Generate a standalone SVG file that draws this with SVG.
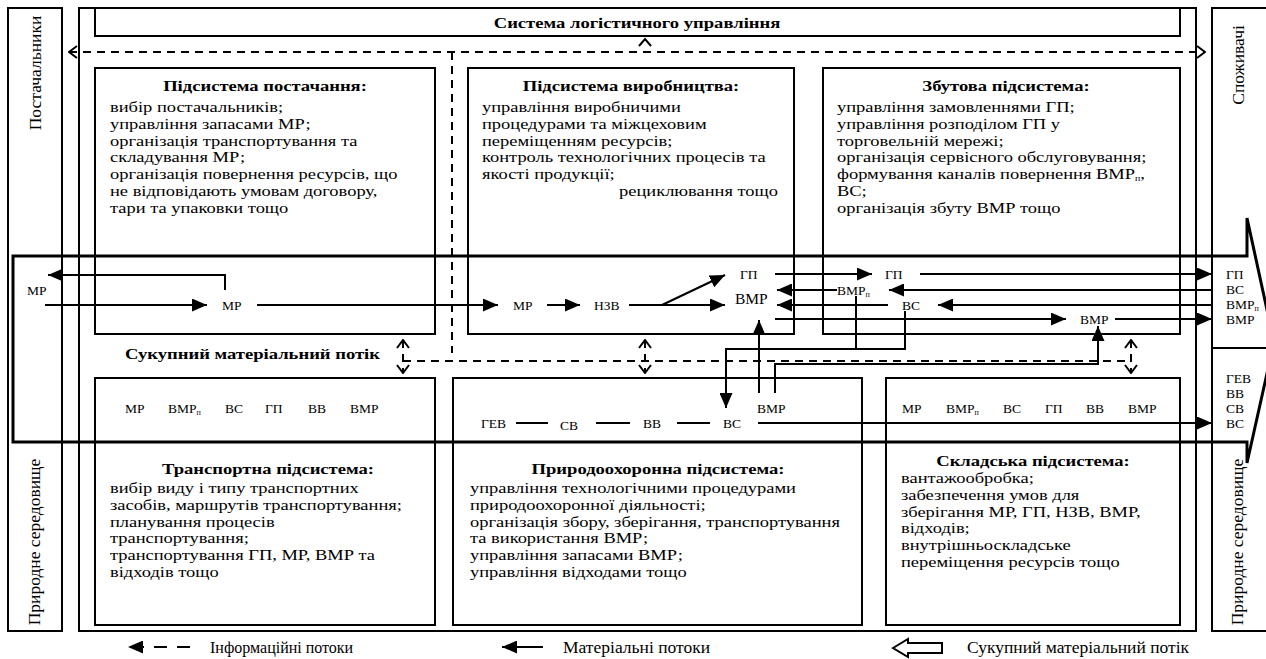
<svg xmlns="http://www.w3.org/2000/svg" width="1266" height="659" viewBox="0 0 1266 659">
<style>
text{font-family:"Liberation Serif","Times New Roman",serif;fill:#000}
.t{font-size:15px}
.b{font-size:15.5px;font-weight:bold}
.l{font-size:13.5px}
.v{font-size:17.5px}
.g{font-size:17.5px}
.box{fill:none;stroke:#000;stroke-width:2}
.ln{fill:none;stroke:#000;stroke-width:2}
.ds{fill:none;stroke:#000;stroke-width:2;stroke-dasharray:8 6}
.big{fill:none;stroke:#000;stroke-width:3}
.chev{fill:none;stroke:#000;stroke-width:2}
</style>
<defs>
<marker id="ah" viewBox="0 0 15 13" markerWidth="15" markerHeight="13" refX="15" refY="6.5" orient="auto" markerUnits="userSpaceOnUse"><path d="M0,0 L15,6.5 L0,13 Z" fill="#000"/></marker>
<marker id="oc" viewBox="0 0 10 14" markerWidth="10" markerHeight="14" refX="9" refY="7" orient="auto-start-reverse" markerUnits="userSpaceOnUse"><path d="M1,1 L9,7 L1,13" fill="none" stroke="#000" stroke-width="2"/></marker>
</defs>
<rect width="1266" height="659" fill="#fff"/>

<g id="outer"><rect class="box" x="79" y="8" width="1117" height="623"/></g>
<g id="left-env"><rect class="box" x="8" y="8" width="54" height="623"/>
<text class="v" transform="translate(41,73) rotate(-90)" text-anchor="middle">Постачальники</text>
<text class="v" transform="translate(40,542) rotate(-90)" text-anchor="middle">Природне середовище</text></g>
<g id="right-env"><path class="box" d="M1280 8 H1212 V631 H1280 M1212 348 H1280"/>
<text class="v" transform="translate(1244,65) rotate(-90)" text-anchor="middle">Споживачі</text>
<text class="v" transform="translate(1243,542) rotate(-90)" text-anchor="middle">Природне середовище</text></g>

<g id="control"><rect class="box" x="95" y="8" width="1085" height="28"/>
<text class="b" transform="translate(637,0) scale(1.2,1)" x="0" y="28" text-anchor="middle">Система логістичного управління</text></g>

<g id="supply"><rect class="box" x="95" y="68" width="340" height="266"/>
<text class="b" transform="translate(265,0) scale(1.2,1)" x="0" y="91" text-anchor="middle">Підсистема постачання:</text>
<g transform="translate(110,0) scale(1.23,1)">
<text class="t" x="0" y="112">вибір постачальників;</text>
<text class="t" x="0" y="129">управління запасами МР;</text>
<text class="t" x="0" y="146">організація транспортування та</text>
<text class="t" x="0" y="162">складування МР;</text>
<text class="t" x="0" y="179">організація повернення ресурсів, що</text>
<text class="t" x="0" y="196">не відповідають умовам договору,</text>
<text class="t" x="0" y="213">тари та упаковки тощо</text></g></g>

<g id="production"><rect class="box" x="468" y="68" width="326" height="266"/>
<text class="b" transform="translate(631,0) scale(1.2,1)" x="0" y="91" text-anchor="middle">Підсистема виробництва:</text>
<g transform="translate(482,0) scale(1.23,1)">
<text class="t" x="0" y="112">управління виробничими</text>
<text class="t" x="0" y="129">процедурами та міжцеховим</text>
<text class="t" x="0" y="146">переміщенням ресурсів;</text>
<text class="t" x="0" y="162">контроль технологічних процесів та</text>
<text class="t" x="0" y="179">якості продукції;</text></g>
<text class="t" transform="translate(778,0) scale(1.23,1)" x="0" y="196" text-anchor="end">рециклювання тощо</text></g>

<g id="sales"><rect class="box" x="823" y="68" width="357" height="266"/>
<text class="b" transform="translate(1006,0) scale(1.2,1)" x="0" y="91" text-anchor="middle">Збутова підсистема:</text>
<g transform="translate(837,0) scale(1.23,1)">
<text class="t" x="0" y="112">управління замовленнями ГП;</text>
<text class="t" x="0" y="129">управління розподілом ГП у</text>
<text class="t" x="0" y="146">торговельній мережі;</text>
<text class="t" x="0" y="162">організація сервісного обслуговування;</text>
<text class="t" x="0" y="179">формування каналів повернення ВМР<tspan font-size="8" dy="2">п</tspan><tspan dy="-2">,</tspan></text>
<text class="t" x="0" y="196">ВС;</text>
<text class="t" x="0" y="213">організація збуту ВМР тощо</text></g></g>

<g id="transport"><rect class="box" x="95" y="378" width="340" height="247"/>
<text class="b" transform="translate(268,0) scale(1.2,1)" x="0" y="474" text-anchor="middle">Транспортна підсистема:</text>
<g transform="translate(110,0) scale(1.23,1)">
<text class="t" x="0" y="493">вибір виду і типу транспортних</text>
<text class="t" x="0" y="510">засобів, маршрутів транспортування;</text>
<text class="t" x="0" y="527">планування процесів</text>
<text class="t" x="0" y="543">транспортування;</text>
<text class="t" x="0" y="560">транспортування ГП, МР, ВМР та</text>
<text class="t" x="0" y="577">відходів тощо</text></g></g>

<g id="environment"><rect class="box" x="453" y="378" width="409" height="247"/>
<text class="b" transform="translate(658,0) scale(1.2,1)" x="0" y="474" text-anchor="middle">Природоохоронна підсистема:</text>
<g transform="translate(470,0) scale(1.23,1)">
<text class="t" x="0" y="493">управління технологічними процедурами</text>
<text class="t" x="0" y="510">природоохоронної діяльності;</text>
<text class="t" x="0" y="527">організація збору, зберігання, транспортування</text>
<text class="t" x="0" y="543">та використання ВМР;</text>
<text class="t" x="0" y="560">управління запасами ВМР;</text>
<text class="t" x="0" y="577">управління відходами тощо</text></g></g>

<g id="warehouse"><rect class="box" x="886" y="378" width="294" height="247"/>
<text class="b" transform="translate(1033,0) scale(1.2,1)" x="0" y="466" text-anchor="middle">Складська підсистема:</text>
<g transform="translate(901,0) scale(1.23,1)">
<text class="t" x="0" y="483">вантажообробка;</text>
<text class="t" x="0" y="500">забезпечення умов для</text>
<text class="t" x="0" y="517">зберігання МР, ГП, НЗВ, ВМР,</text>
<text class="t" x="0" y="533">відходів;</text>
<text class="t" x="0" y="550">внутрішньоскладське</text>
<text class="t" x="0" y="567">переміщення ресурсів тощо</text></g></g>

<g id="total-flow"><path class="big" d="M13 256 H1247 V218 L1274 342 L1247 463 V442 H13 Z"/>
<text transform="translate(125,0) scale(1.2,1)" x="0" y="359" style="font-size:15.5px;font-weight:bold">Сукупний матеріальний потік</text></g>

<g id="labels">
<text class="l" x="27" y="295">МР</text>
<text class="l" x="222" y="310">МР</text>
<text class="l" x="513" y="310">МР</text>
<text class="l" x="594" y="310">НЗВ</text>
<text class="l" x="740" y="279">ГП</text>
<text x="735" y="304" style="font-size:15.5px">ВМР</text>
<text class="l" x="885" y="279">ГП</text>
<text class="l" x="837" y="295">ВМР<tspan font-size="8" dy="2">п</tspan></text>
<text class="l" x="902" y="310">ВС</text>
<text class="l" x="1080" y="324">ВМР</text>
<text class="l" x="1226" y="279">ГП</text>
<text class="l" x="1226" y="294">ВС</text>
<text class="l" x="1226" y="309">ВМР<tspan font-size="8" dy="2">п</tspan></text>
<text class="l" x="1226" y="324">ВМР</text>
<text class="l" x="1226" y="383">ГЕВ</text>
<text class="l" x="1226" y="398">ВВ</text>
<text class="l" x="1226" y="413">СВ</text>
<text class="l" x="1226" y="428">ВС</text>
<text class="l" x="481" y="428">ГЕВ</text>
<text class="l" x="560" y="430">СВ</text>
<text class="l" x="643" y="428">ВВ</text>
<text class="l" x="723" y="428">ВС</text>
<text class="l" x="757" y="413">ВМР</text>
<text class="l" x="125" y="413">МР</text>
<text class="l" x="168" y="413">ВМР<tspan font-size="8" dy="2">п</tspan></text>
<text class="l" x="225" y="413">ВС</text>
<text class="l" x="265" y="413">ГП</text>
<text class="l" x="308" y="413">ВВ</text>
<text class="l" x="350" y="413">ВМР</text>
<text class="l" x="902" y="413">МР</text>
<text class="l" x="946" y="413">ВМР<tspan font-size="8" dy="2">п</tspan></text>
<text class="l" x="1003" y="413">ВС</text>
<text class="l" x="1045" y="413">ГП</text>
<text class="l" x="1086" y="413">ВВ</text>
<text class="l" x="1128" y="413">ВМР</text>
</g>

<g id="connectors">
<path class="ds" d="M69 52 H1205" marker-start="url(#oc)" marker-end="url(#oc)"/>
<path class="chev" d="M639 46 L645 39 L651 46"/>
<path class="ds" d="M452 52 V353"/>
<path class="ds" d="M403 361 H1125"/>
<path class="ds" d="M403 340 V373" marker-start="url(#oc)" marker-end="url(#oc)"/>
<path class="ds" d="M645 340 V373" marker-start="url(#oc)" marker-end="url(#oc)"/>
<path class="ds" d="M1131 340 V373" marker-start="url(#oc)" marker-end="url(#oc)"/>

<path class="ln" d="M225 290 V275 H48" marker-end="url(#ah)"/>
<path class="ln" d="M45 305 H207" marker-end="url(#ah)"/>
<path class="ln" d="M257 305 H498" marker-end="url(#ah)"/>
<path class="ln" d="M547 305 H580" marker-end="url(#ah)"/>
<path class="ln" d="M629 305 H725" marker-end="url(#ah)"/>
<path class="ln" d="M662 305 L725 275" marker-end="url(#ah)"/>
<path class="ln" d="M775 274 H872" marker-end="url(#ah)"/>
<path class="ln" d="M920 274 H1212" marker-end="url(#ah)"/>
<path class="ln" d="M1212 290 H889" marker-end="url(#ah)"/>
<path class="ln" d="M837 290 H777" marker-end="url(#ah)"/>
<path class="ln" d="M1212 305 H938" marker-end="url(#ah)"/>
<path class="ln" d="M888 305 H777" marker-end="url(#ah)"/>
<path class="ln" d="M775 319 H1066" marker-end="url(#ah)"/>
<path class="ln" d="M1115 319 H1212" marker-end="url(#ah)"/>
<path class="ln" d="M856 296 V349"/>
<path class="ln" d="M905 311 V349 H726 V408" marker-end="url(#ah)"/>
<path class="ln" d="M759 393 V320" marker-end="url(#ah)"/>
<path class="ln" d="M775 393 V364 H1098 V326" marker-end="url(#ah)"/>
<path class="ln" d="M516 423 H548 M596 423 H630 M677 423 H710"/>
<path class="ln" d="M758 423 H1212" marker-end="url(#ah)"/>
</g>

<g id="legend">
<path class="ds" d="M190 647 H128" marker-end="url(#ah)" style="stroke-dasharray:13 10"/>
<text x="210" y="653" style="font-size:16px">Інформаційні потоки</text>
<path class="ln" d="M543 647 H502" marker-end="url(#ah)"/>
<text class="g" x="563" y="653">Матеріальні потоки</text>
<path class="ln" d="M893 648 L908 639 V643 H942 V653 H908 V657 Z"/>
<text class="g" x="967" y="653">Сукупний матеріальний потік</text>
</g>
</svg>
